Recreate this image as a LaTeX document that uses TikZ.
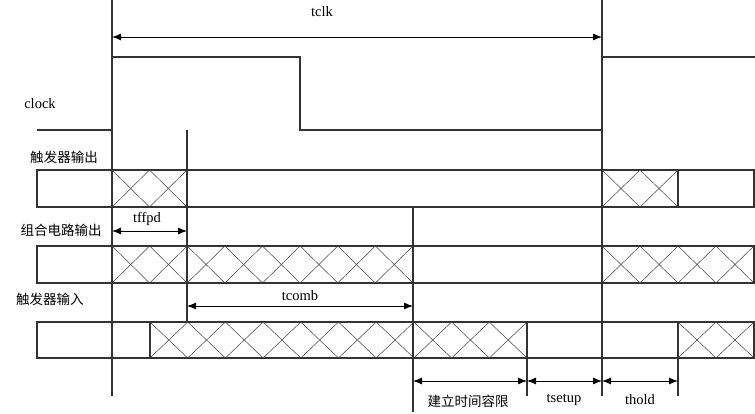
\documentclass[tikz,border=0pt]{standalone}
\usepackage{fontspec}
\setmainfont{Liberation Serif}
\newfontfamily\cjk{Noto Sans CJK SC}
\usetikzlibrary{arrows.meta}
\tikzset{
 sig/.style={draw=black!80,line width=1.1pt},
 guide/.style={draw=black!80,line width=1.1pt},
 hat/.style={draw=black!75,line width=0.5pt},
 dim/.style={draw=black,line width=0.9pt,{Latex[length=9pt,width=7pt]}-{Latex[length=9pt,width=7pt]}},
 lbl/.style={font=\fontsize{14.5}{16}\selectfont,inner sep=0pt},
 clbl/.style={font=\cjk\fontsize{13.5}{16}\selectfont,inner sep=0pt}
}
\newcommand{\hatchseg}[5]{% x0 x1 n top bot
 \pgfmathsetmacro{\hw}{(#2-#1)/#3}
 \foreach \k in {1,...,#3}{
  \draw[hat] ({#1+(\k-1)*\hw},#4) -- ({#1+\k*\hw},#5);
  \draw[hat] ({#1+(\k-1)*\hw},#5) -- ({#1+\k*\hw},#4);
 }
 \draw[sig] (#1,#4) -- (#1,#5) (#2,#4) -- (#2,#5);
}
\begin{document}
\begin{tikzpicture}[x=1pt,y=-1pt]
\useasboundingbox (0,0) rectangle (755,414);
% clock
\draw[sig] (37,130) -- (112,130) -- (112,57) -- (300,57) -- (300,130) -- (602,130) -- (602,57) -- (755,57);
% guides
\coordinate (g1t) at (112,0); \coordinate (g1b) at (112,396);
\coordinate (g2t) at (602,0); \coordinate (g2b) at (602,396);
\draw[guide] (g1t) -- (g1b); \draw[guide] (g2t) -- (g2b);
\draw[guide] (187,130) -- (187,322);
\draw[guide] (413,207) -- (413,412);
\draw[guide] (527,358) -- (527,396);
\draw[guide] (678,358) -- (678,396);
% rows
\draw[sig] (37,170) rectangle (754,207);
\hatchseg{112}{187}{2}{170}{207}
\hatchseg{602}{678}{2}{170}{207}
\draw[sig] (37,246) rectangle (754,283);
\hatchseg{112}{413}{8}{246}{283}
\hatchseg{602}{754}{4}{246}{283}
\draw[sig] (37,322) rectangle (754,358);
\hatchseg{150}{527}{10}{322}{358}
\hatchseg{678}{754}{2}{322}{358}
% dimensions
\coordinate (a1) at (112,37); \coordinate (a2) at (602,37);
\draw[dim] (a1) -- (a2);
\node[lbl] (tclk) at (322,12) {tclk};
\coordinate (b1) at (112,231); \coordinate (b2) at (187,231);
\draw[dim] (b1) -- (b2);
\node[lbl] (tffpd) at (147,219) {tffpd};
\coordinate (c1) at (187,306); \coordinate (c2) at (413,306);
\draw[dim] (c1) -- (c2);
\node[lbl] (tcomb) at (300,296) {tcomb};
\coordinate (d1) at (413,381); \coordinate (d2) at (527,381);
\coordinate (d3) at (602,381); \coordinate (d4) at (678,381);
\draw[dim] (d1) -- (d2); \draw[dim] (d2) -- (d3); \draw[dim] (d3) -- (d4);
\node[clbl] (jl) at (468,401) {建立时间容限};
\node[lbl] (tsetup) at (564,400) {tsetup};
\node[lbl] (thold) at (640,400) {thold};
% row labels
\node[lbl] (clk) at (40,104) {clock};
\node[clbl] (r1) at (64,157) {触发器输出};
\node[clbl] (r2) at (61,230) {组合电路输出};
\node[clbl] (r3) at (50,299) {触发器输入};
\end{tikzpicture}
\end{document}
